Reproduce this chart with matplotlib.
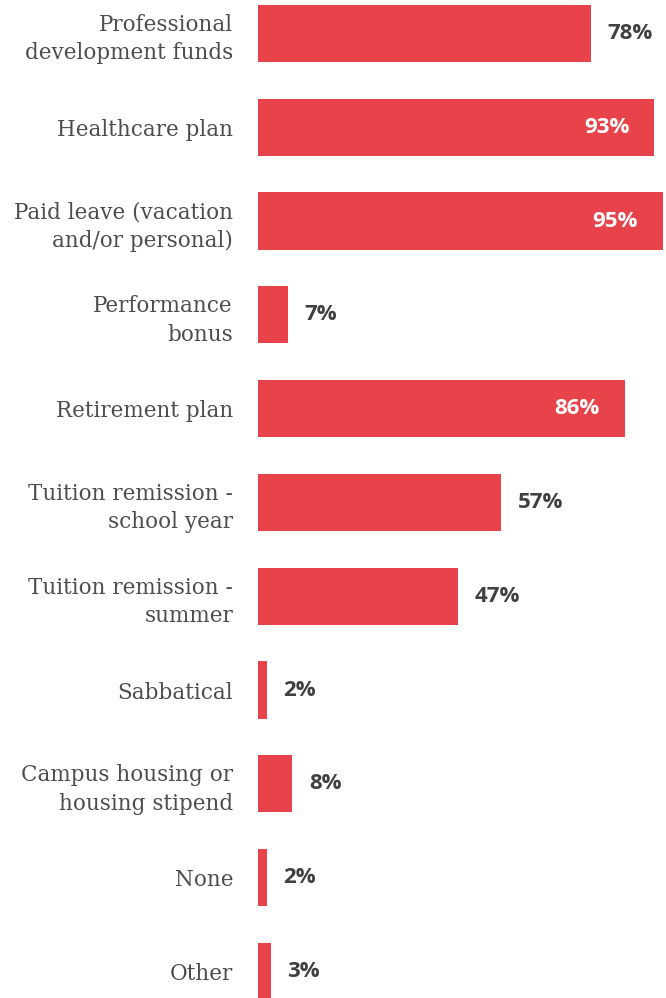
import matplotlib
matplotlib.use("Agg")
import matplotlib.pyplot as plt

categories = [
    "Professional\ndevelopment funds",
    "Healthcare plan",
    "Paid leave (vacation\nand/or personal)",
    "Performance\nbonus",
    "Retirement plan",
    "Tuition remission -\nschool year",
    "Tuition remission -\nsummer",
    "Sabbatical",
    "Campus housing or\nhousing stipend",
    "None",
    "Other",
]
values = [78, 93, 95, 7, 86, 57, 47, 2, 8, 2, 3]

BAR = "#E8434A"
LABEL = "#4d4d4d"
VALUE = "#404040"

W, H = 666, 998
fig = plt.figure(figsize=(W / 100, H / 100), dpi=100)
ax = fig.add_axes([258 / W, 0, (663 - 258) / W, 1])

ypos = list(range(len(categories)))
ax.barh(ypos, values, height=0.61, color=BAR)
ax.set_xlim(0, 95)
ax.set_ylim(10.283, -0.357)

ax.set_yticks(ypos)
ax.set_yticklabels(categories, family="DejaVu Serif", fontsize=15.5,
                   color=LABEL, linespacing=1.38)
ax.tick_params(axis="y", length=0, pad=18)
ax.set_xticks([])
for s in ax.spines.values():
    s.set_visible(False)

for y, v in zip(ypos, values):
    if v >= 80:
        ax.annotate(f"{v}%", (v, y), xytext=(-18, 0), textcoords="offset points",
                    ha="right", va="center", color="white",
                    family="Open Sans", fontweight="bold", fontsize=16)
    else:
        ax.annotate(f"{v}%", (v, y), xytext=(12, 0), textcoords="offset points",
                    ha="left", va="center", color=VALUE,
                    family="Open Sans", fontweight="bold", fontsize=16)

fig.savefig("out.png", dpi=100)
